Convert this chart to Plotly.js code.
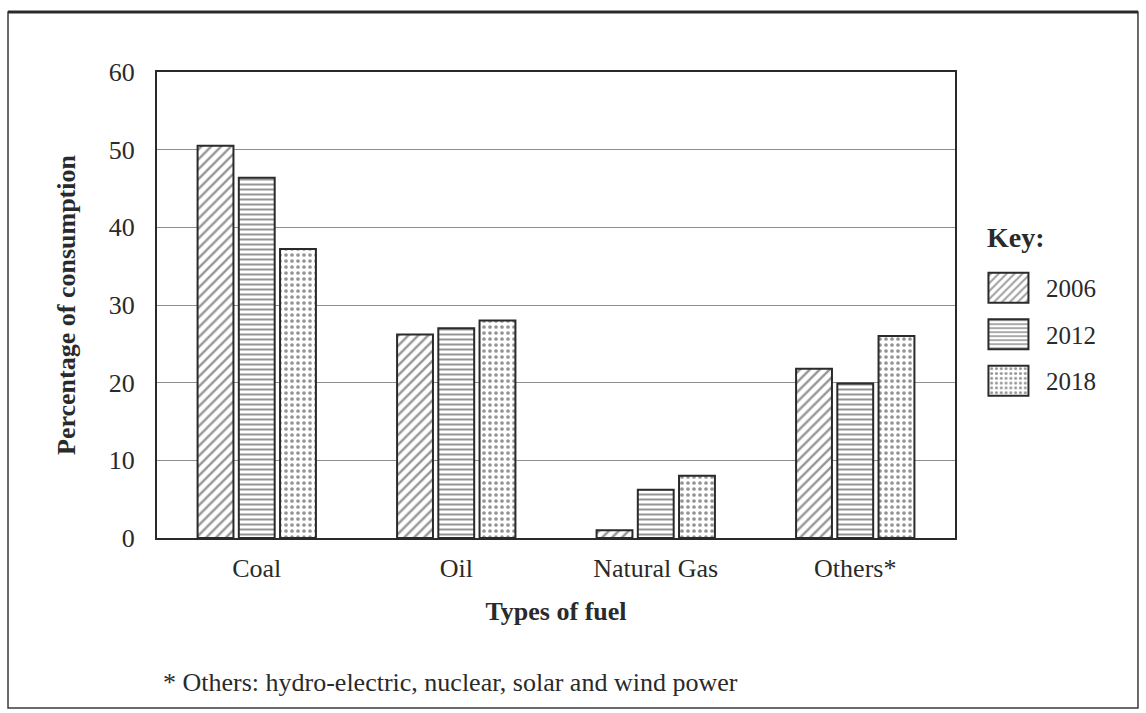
<!DOCTYPE html>
<html>
<head>
<meta charset="utf-8">
<script src="https://cdn.plot.ly/plotly-3.0.1.min.js"></script>
<style>html,body{margin:0;padding:0;background:#fff;}#chart{width:1146px;height:713px;}</style>
</head>
<body>
<div id="chart"></div>
<script>
const categories = ["Coal", "Oil", "Natural Gas", "Others*"];
const years = ["2006", "2012", "2018"];
const values2006 = [50.5, 26.2, 1.0, 21.8];
const values2012 = [46.4, 27.0, 6.2, 19.9];
const values2018 = [37.2, 28.0, 8.0, 26.0];
const yTicks = [0, 10, 20, 30, 40, 50, 60];
const patterns = ["/", "-", "."];
const seriesValues = [values2006, values2012, values2018];

const ink = "#2a2a2a";
const font = "Liberation Serif, Times New Roman, serif";

const patternSize = [7, 5, 6];
const patternSolidity = [0.33, 0.4, 0.3];

const traces = years.map((y, i) => ({
  type: "bar",
  name: y,
  x: categories,
  y: seriesValues[i],
  legendgroup: y,
  marker: {
    color: "#ffffff",
    line: {color: ink, width: 2},
    pattern: {shape: patterns[i], fgcolor: ink, bgcolor: "#ffffff",
              size: patternSize[i], solidity: patternSolidity[i], fillmode: "overlay"}
  },
  hoverinfo: "x+y+name"
}));

const layout = {
  width: 1146, height: 713,
  margin: {l: 157, r: 191, t: 72, b: 175},
  paper_bgcolor: "#ffffff", plot_bgcolor: "#ffffff",
  font: {family: font, color: ink, size: 26},
  barmode: "group",
  bargap: 0.38,
  bargroupgap: 0.13,
  showlegend: true,
  legend: {
    x: 1.020, y: 0.586, xanchor: "left", yanchor: "top",
    font: {size: 25, family: font},
    traceorder: "grouped",
    tracegroupgap: 11,
    itemwidth: 65,
    bgcolor: "rgba(0,0,0,0)"
  },
  xaxis: {
    showline: true, linecolor: ink, linewidth: 2, mirror: true,
    ticks: "", ticklabelstandoff: 6,
    tickfont: {size: 26, family: font},
    title: {text: "<b>Types of fuel</b>", font: {size: 26, family: font}, standoff: 20}
  },
  yaxis: {
    range: [0, 60], tickvals: yTicks,
    showline: true, linecolor: ink, linewidth: 2, mirror: true,
    showgrid: true, gridcolor: "#8f8f8f", gridwidth: 1.2,
    zeroline: false,
    ticks: "", ticklabelstandoff: 15,
    tickfont: {size: 26, family: font},
    title: {text: "<b>Percentage of consumption</b>", font: {size: 26, family: font}, standoff: 26}
  },
  shapes: [
    {type: "rect", xref: "paper", yref: "paper", x0: -0.1867, x1: 1.2293, y0: -0.3648, y1: 1.1288,
     line: {color: "#3a3a3a", width: 1.5}, fillcolor: "rgba(0,0,0,0)", layer: "below"},
    {type: "line", xref: "paper", yref: "paper", x0: -0.1867, x1: 1.2293, y0: 1.1288, y1: 1.1288,
     line: {color: "#2a2a2a", width: 3}}
  ],
  annotations: [
    {xref: "paper", yref: "paper", x: 0.005, y: -0.311, xanchor: "left", yanchor: "middle",
     text: "* Others: hydro-electric, nuclear, solar and wind power", showarrow: false,
     font: {size: 26, family: font, color: ink}},
    {xref: "paper", yref: "paper", x: 1.038, y: 0.644, xanchor: "left", yanchor: "middle",
     text: "<b>Key:</b>", showarrow: false,
     font: {size: 28, family: font, color: ink}}
  ]
};

function enlargeKey(gd) {
  gd.querySelectorAll(".legend .legendpoints path").forEach(p => {
    p.setAttribute("d", "M20,15H-20V-15H20Z");
  });
}

Plotly.newPlot("chart", traces, layout, {displayModeBar: false}).then(gd => {
  enlargeKey(gd);
  gd.on("plotly_afterplot", () => enlargeKey(gd));
});
</script>
</body>
</html>
